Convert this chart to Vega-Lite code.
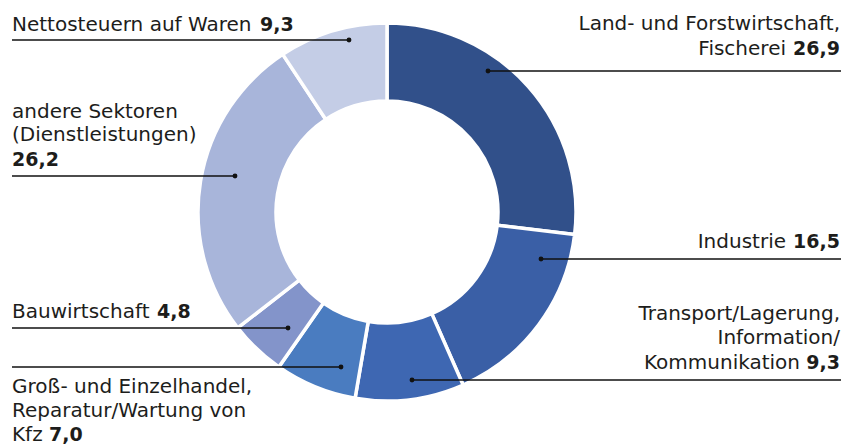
{
  "$schema": "https://vega.github.io/schema/vega-lite/v6.json",
  "width": 854,
  "height": 446,
  "autosize": {"type": "fit", "contains": "padding"},
  "padding": 0,
  "background": "white",
  "config": {
    "view": {"stroke": null},
    "locale": {"number": {"decimal": ",", "thousands": ".", "grouping": [3], "currency": ["", " €"]}},
    "text": {"font": "DejaVu Sans", "fontSize": 20, "color": "#1d1d1b", "baseline": "alphabetic"}
  },
  "datasets": {
    "sectors": [
      {"rank": 1, "sector": "Land- und Forstwirtschaft, Fischerei", "value": 26.9, "side": "right", "dotX": 488, "dotY": 71, "lineX": 841, "valX": 840, "valY": 55},
      {"rank": 2, "sector": "Industrie", "value": 16.5, "side": "right", "dotX": 541, "dotY": 259, "lineX": 841, "valX": 840, "valY": 248},
      {"rank": 3, "sector": "Transport/Lagerung, Information/Kommunikation", "value": 9.3, "side": "right", "dotX": 412, "dotY": 380, "lineX": 841, "valX": 840, "valY": 369},
      {"rank": 4, "sector": "Groß- und Einzelhandel, Reparatur/Wartung von Kfz", "value": 7.0, "side": "left", "dotX": 341, "dotY": 367, "lineX": 12, "valX": 49, "valY": 441},
      {"rank": 5, "sector": "Bauwirtschaft", "value": 4.8, "side": "left", "dotX": 288, "dotY": 328, "lineX": 12, "valX": 157, "valY": 318},
      {"rank": 6, "sector": "andere Sektoren (Dienstleistungen)", "value": 26.2, "side": "left", "dotX": 235, "dotY": 176, "lineX": 12, "valX": 12, "valY": 166},
      {"rank": 7, "sector": "Nettosteuern auf Waren", "value": 9.3, "side": "left", "dotX": 349, "dotY": 40, "lineX": 12, "valX": 260, "valY": 31}
    ],
    "names": [
      {"sector": "Nettosteuern auf Waren", "side": "left", "line": "Nettosteuern auf Waren", "lx": 12, "ly": 31},
      {"sector": "andere Sektoren (Dienstleistungen)", "side": "left", "line": "andere Sektoren", "lx": 12, "ly": 118},
      {"sector": "andere Sektoren (Dienstleistungen)", "side": "left", "line": "(Dienstleistungen)", "lx": 12, "ly": 141},
      {"sector": "Bauwirtschaft", "side": "left", "line": "Bauwirtschaft", "lx": 12, "ly": 318},
      {"sector": "Groß- und Einzelhandel, Reparatur/Wartung von Kfz", "side": "left", "line": "Groß- und Einzelhandel,", "lx": 12, "ly": 393},
      {"sector": "Groß- und Einzelhandel, Reparatur/Wartung von Kfz", "side": "left", "line": "Reparatur/Wartung von", "lx": 12, "ly": 417},
      {"sector": "Groß- und Einzelhandel, Reparatur/Wartung von Kfz", "side": "left", "line": "Kfz", "lx": 12, "ly": 441},
      {"sector": "Land- und Forstwirtschaft, Fischerei", "side": "right", "line": "Land- und Forstwirtschaft,", "lx": 840, "ly": 30},
      {"sector": "Land- und Forstwirtschaft, Fischerei", "side": "right", "line": "Fischerei", "lx": 786, "ly": 55},
      {"sector": "Industrie", "side": "right", "line": "Industrie", "lx": 786, "ly": 248},
      {"sector": "Transport/Lagerung, Information/Kommunikation", "side": "right", "line": "Transport/Lagerung,", "lx": 840, "ly": 320},
      {"sector": "Transport/Lagerung, Information/Kommunikation", "side": "right", "line": "Information/", "lx": 840, "ly": 344},
      {"sector": "Transport/Lagerung, Information/Kommunikation", "side": "right", "line": "Kommunikation", "lx": 800, "ly": 369}
    ]
  },
  "layer": [
    {
      "data": {"name": "sectors"},
      "mark": {"type": "arc", "innerRadius": 111, "outerRadius": 189, "stroke": "white", "strokeWidth": 3.5},
      "encoding": {
        "theta": {"field": "value", "type": "quantitative", "stack": true},
        "order": {"field": "rank", "type": "quantitative"},
        "color": {
          "field": "sector", "type": "nominal", "legend": null,
          "scale": {
            "domain": ["Land- und Forstwirtschaft, Fischerei", "Industrie", "Transport/Lagerung, Information/Kommunikation", "Groß- und Einzelhandel, Reparatur/Wartung von Kfz", "Bauwirtschaft", "andere Sektoren (Dienstleistungen)", "Nettosteuern auf Waren"],
            "range": ["#31508a", "#3a5fa6", "#3e67b2", "#4a7cc0", "#8394ca", "#a8b5da", "#c4cde6"]
          }
        },
        "x": {"datum": 387, "type": "quantitative", "scale": {"domain": [0, 854], "nice": false, "zero": false}, "axis": null},
        "y": {"datum": 212, "type": "quantitative", "scale": {"domain": [446, 0], "nice": false, "zero": false}, "axis": null}
      }
    },
    {
      "data": {"name": "sectors"},
      "mark": {"type": "rule", "color": "#111111", "strokeWidth": 1.5},
      "encoding": {
        "x": {"field": "dotX", "type": "quantitative"},
        "x2": {"field": "lineX"},
        "y": {"field": "dotY", "type": "quantitative"}
      }
    },
    {
      "data": {"name": "sectors"},
      "mark": {"type": "circle", "color": "#111111", "opacity": 1, "size": 24},
      "encoding": {
        "x": {"field": "dotX", "type": "quantitative"},
        "y": {"field": "dotY", "type": "quantitative"}
      }
    },
    {
      "data": {"name": "names"},
      "transform": [{"filter": "datum.side === 'left'"}],
      "mark": {"type": "text", "align": "left"},
      "encoding": {
        "x": {"field": "lx", "type": "quantitative"},
        "y": {"field": "ly", "type": "quantitative"},
        "text": {"field": "line"}
      }
    },
    {
      "data": {"name": "names"},
      "transform": [{"filter": "datum.side === 'right'"}],
      "mark": {"type": "text", "align": "right"},
      "encoding": {
        "x": {"field": "lx", "type": "quantitative"},
        "y": {"field": "ly", "type": "quantitative"},
        "text": {"field": "line"}
      }
    },
    {
      "data": {"name": "sectors"},
      "transform": [{"filter": "datum.side === 'left'"}],
      "mark": {"type": "text", "align": "left", "fontWeight": "bold", "fontSize": 19},
      "encoding": {
        "x": {"field": "valX", "type": "quantitative"},
        "y": {"field": "valY", "type": "quantitative"},
        "text": {"field": "value", "type": "quantitative", "format": ".1f"}
      }
    },
    {
      "data": {"name": "sectors"},
      "transform": [{"filter": "datum.side === 'right'"}],
      "mark": {"type": "text", "align": "right", "fontWeight": "bold", "fontSize": 19},
      "encoding": {
        "x": {"field": "valX", "type": "quantitative"},
        "y": {"field": "valY", "type": "quantitative"},
        "text": {"field": "value", "type": "quantitative", "format": ".1f"}
      }
    }
  ]
}
